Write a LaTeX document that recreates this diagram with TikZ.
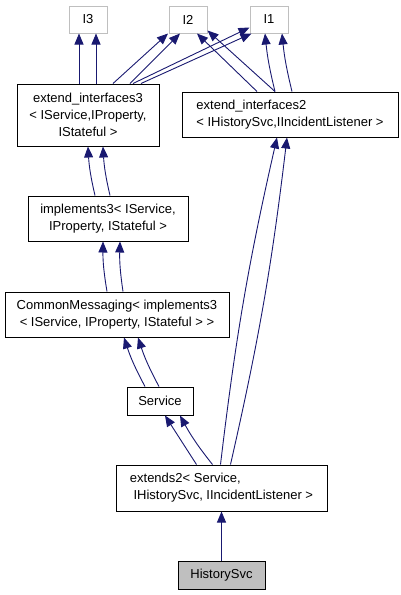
\documentclass[tikz,border=0pt]{standalone}
\usepackage{fontspec}
\setmainfont{Liberation Sans}
\usetikzlibrary{arrows.meta}
\definecolor{edgeblue}{HTML}{191970}
\definecolor{boxgrey}{HTML}{BFBFBF}

\begin{document}
\begin{tikzpicture}[x=1pt, y=-1pt,
  cls/.style={draw=black, line width=1pt, fill=white, inner sep=0pt, align=center},
  ifc/.style={draw=boxgrey, line width=1pt, inner sep=0pt, minimum width=38pt, minimum height=27pt},
  inh/.style={draw=edgeblue, line width=0.9pt, -{Triangle[length=11pt,width=9pt]}}]

  \fontsize{13}{17}\selectfont
  \useasboundingbox (0,0) rectangle (401,595);

  \node[ifc] (i3) at (88,19.5) {I3};
  \node[ifc] (i2) at (188,19.5) {I2};
  \node[ifc] (i1) at (269,19.5) {I1};

  \node[cls, minimum width=142pt, minimum height=62pt] (ext3) at (88,115)
    {extend\_interfaces3\\< IService,IProperty,\\IStateful >};
  \node[cls, minimum width=216pt, minimum height=45pt, align=left] (ext2) at (290,114.5)
    {extend\_interfaces2\\< IHistorySvc,IIncidentListener >};
  \node[cls, minimum width=160pt, minimum height=45pt] (impl3) at (108,218.5)
    {implements3< IService,\\IProperty, IStateful >};
  \node[cls, minimum width=224pt, minimum height=45pt] (cmsg) at (117,314.5)
    {CommonMessaging< implements3\\< IService, IProperty, IStateful > >};
  \node[cls, minimum width=66pt, minimum height=28pt] (svc) at (160,401) {Service};
  \node[cls, minimum width=211pt, minimum height=46pt, align=left] (extends2) at (221.5,488)
    {extends2< Service,\\\ IHistorySvc, IIncidentListener >};
  \node[cls, minimum width=87pt, minimum height=28pt, fill=boxgrey] (hsvc) at (221.5,575) {HistorySvc};

  \draw[inh] ([xshift=-9pt]ext3.north) -- ([xshift=-9pt]i3.south); %% ext3->I3
  \draw[inh] ([xshift=8pt]ext3.north) -- ([xshift=8pt]i3.south);
  \draw[inh] ([xshift=25pt]ext3.north) -- ([xshift=-20pt]i2.south); %% ext3->I2
  \draw[inh] ([xshift=42pt]ext3.north) -- ([xshift=-8pt]i2.south);
  \draw[inh] ([xshift=45pt]ext3.north) -- ([yshift=6pt]i1.south west); %% ext3->I1
  \draw[inh] ([xshift=53pt]ext3.north) -- ([xshift=2pt]i1.south west);

  \draw[inh] ([xshift=-33pt]ext2.north) -- ([xshift=9pt]i2.south); %% ext2->I2
  \draw[inh] ([xshift=-15pt]ext2.north) -- ([yshift=3pt]i2.south east);
  \draw[inh] ([xshift=-15pt]ext2.north) to[bend left=4] ([xshift=-4pt]i1.south); %% ext2->I1
  \draw[inh] ([xshift=2pt]ext2.north) to[bend left=4] ([xshift=13pt]i1.south);

  \draw[inh] ([xshift=-13pt]impl3.north) to[bend left=5] ([xshift=0pt]ext3.south); %% impl3->ext3
  \draw[inh] ([xshift=2pt]impl3.north) to[bend left=5] ([xshift=15pt]ext3.south);

  \draw[inh] ([xshift=-10pt]cmsg.north) to[bend left=5] ([xshift=-5pt]impl3.south); %% cmsg->impl3
  \draw[inh] ([xshift=6pt]cmsg.north) to[bend left=5] ([xshift=12pt]impl3.south);

  \draw[inh] ([xshift=-15pt]svc.north) to[bend left=5] ([xshift=7pt]cmsg.south); %% svc->cmsg
  \draw[inh] ([xshift=-1pt]svc.north) to[bend left=5] ([xshift=21pt]cmsg.south);

  \draw[inh] ([xshift=-25pt]extends2.north) -- ([xshift=5pt]svc.south); %% extends2->svc
  \draw[inh] ([xshift=-9pt]extends2.north) to[bend left=5] ([xshift=20pt]svc.south);
  \draw[inh] ([xshift=-1pt]extends2.north) to[bend left=3] ([xshift=-13pt]ext2.south); %% extends2->ext2
  \draw[inh] ([xshift=9pt]extends2.north) to[bend right=3] ([xshift=-3pt]ext2.south);

  \draw[inh] (hsvc) -- (extends2); %% hsvc->extends2
\end{tikzpicture}
\end{document}
